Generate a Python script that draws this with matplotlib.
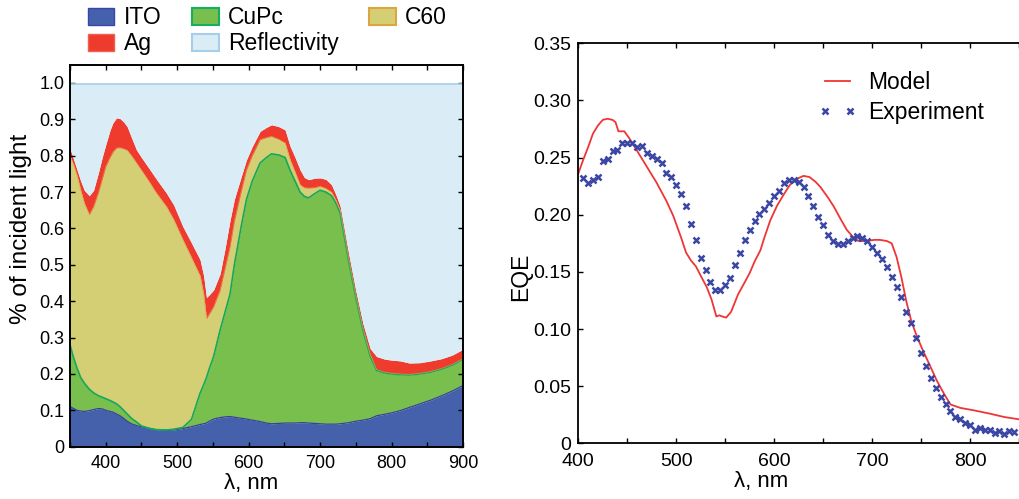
import numpy as np
import matplotlib
matplotlib.use("Agg")
import matplotlib.pyplot as plt
from matplotlib.patches import Patch

plt.rcParams['font.family'] = ['Liberation Sans', 'DejaVu Sans']

# ---- left panel: cumulative absorption boundaries ----
wl = [350, 355, 360, 365, 370, 377, 383, 390, 395, 400, 406, 410, 415, 420, 425,
      430, 436, 443, 450, 462, 470, 485, 495, 508, 520, 532, 537, 541, 545, 551,
      560, 567, 574, 580, 590, 597, 605, 616, 625, 632, 642, 651, 658, 665, 672,
      678, 684, 692, 700, 708, 716, 722, 728, 740, 750, 760, 770, 779, 790, 800,
      812, 825, 840, 855, 870, 885, 900]
ito_top = [0.110, 0.105, 0.100, 0.098, 0.097, 0.099, 0.102, 0.105, 0.104, 0.100,
           0.097, 0.095, 0.090, 0.085, 0.078, 0.070, 0.063, 0.058, 0.055, 0.050,
           0.047, 0.045, 0.046, 0.050, 0.055, 0.061, 0.063, 0.065, 0.070, 0.076,
           0.080, 0.082, 0.083, 0.081, 0.078, 0.076, 0.073, 0.069, 0.065, 0.063,
           0.064, 0.065, 0.065, 0.065, 0.066, 0.066, 0.065, 0.064, 0.063, 0.062,
           0.062, 0.062, 0.063, 0.066, 0.070, 0.073, 0.077, 0.085, 0.089, 0.093,
           0.099, 0.108, 0.118, 0.128, 0.140, 0.153, 0.168]
cupc_top = [0.280, 0.245, 0.215, 0.190, 0.175, 0.158, 0.148, 0.140, 0.136, 0.132,
            0.127, 0.123, 0.118, 0.110, 0.100, 0.090, 0.078, 0.068, 0.057, 0.050,
            0.047, 0.046, 0.048, 0.053, 0.075, 0.147, 0.170, 0.190, 0.215, 0.248,
            0.320, 0.370, 0.420, 0.500, 0.610, 0.680, 0.730, 0.780, 0.795, 0.805,
            0.802, 0.795, 0.760, 0.730, 0.700, 0.688, 0.684, 0.695, 0.705, 0.700,
            0.690, 0.670, 0.643, 0.510, 0.410, 0.320, 0.250, 0.210, 0.203, 0.200,
            0.198, 0.197, 0.200, 0.205, 0.213, 0.224, 0.240]
c60_top = [0.800, 0.775, 0.745, 0.705, 0.670, 0.638, 0.660, 0.700, 0.735, 0.770,
           0.795, 0.810, 0.821, 0.822, 0.819, 0.815, 0.800, 0.780, 0.760, 0.725,
           0.700, 0.660, 0.625, 0.569, 0.520, 0.470, 0.420, 0.352, 0.365, 0.385,
           0.430, 0.490, 0.550, 0.620, 0.705, 0.761, 0.800, 0.844, 0.850, 0.853,
           0.845, 0.835, 0.789, 0.755, 0.720, 0.712, 0.711, 0.712, 0.716, 0.710,
           0.700, 0.678, 0.650, 0.515, 0.414, 0.324, 0.254, 0.212, 0.205, 0.202,
           0.200, 0.199, 0.202, 0.207, 0.215, 0.226, 0.242]
ag_top = [0.820, 0.790, 0.760, 0.730, 0.705, 0.690, 0.705, 0.755, 0.795, 0.830,
          0.870, 0.890, 0.904, 0.902, 0.893, 0.880, 0.850, 0.816, 0.795, 0.761,
          0.738, 0.697, 0.665, 0.605, 0.560, 0.514, 0.470, 0.410, 0.418, 0.431,
          0.475, 0.545, 0.623, 0.680, 0.745, 0.789, 0.825, 0.867, 0.878, 0.885,
          0.880, 0.871, 0.826, 0.795, 0.761, 0.740, 0.734, 0.738, 0.739, 0.735,
          0.720, 0.693, 0.662, 0.530, 0.428, 0.338, 0.270, 0.248, 0.241, 0.238,
          0.236, 0.230, 0.231, 0.236, 0.242, 0.252, 0.268]
refl_top = 0.997

# ---- right panel: EQE ----
model_wl = [400, 405, 410, 415, 420, 425, 430, 435, 438, 441, 447, 452, 460, 470,
            480, 490, 497, 505, 510, 515, 520, 526, 531, 536, 541, 544, 547, 551,
            556, 563, 570, 575, 580, 586, 590, 596, 603, 610, 616, 622, 630, 636,
            642, 647, 655, 661, 668, 674, 680, 686, 695, 702, 708, 715, 720, 725,
            730, 735, 740, 746, 752, 758, 766, 773, 780, 790, 803, 820, 835, 850]
model_eqe = [0.236, 0.248, 0.259, 0.271, 0.278, 0.283, 0.284, 0.283, 0.281, 0.273,
             0.273, 0.267, 0.256, 0.242, 0.228, 0.212, 0.199, 0.180, 0.167, 0.160,
             0.155, 0.145, 0.137, 0.126, 0.111, 0.112, 0.111, 0.110, 0.115, 0.130,
             0.141, 0.149, 0.159, 0.169, 0.180, 0.195, 0.208, 0.218, 0.226, 0.231,
             0.234, 0.233, 0.229, 0.2245, 0.215, 0.207, 0.196, 0.187, 0.181, 0.177,
             0.177, 0.178, 0.178, 0.177, 0.175, 0.163, 0.145, 0.124, 0.107, 0.093,
             0.081, 0.070, 0.055, 0.044, 0.034, 0.031, 0.029, 0.026, 0.023, 0.021]

exp_wl = list(range(405, 850, 5))
exp_eqe = [0.232, 0.2275, 0.230, 0.233, 0.247, 0.2485, 0.256, 0.2566, 0.2625, 0.263,
           0.263, 0.2595, 0.260, 0.2537, 0.2514, 0.2485, 0.2455, 0.2368, 0.2333, 0.226,
           0.218, 0.2077, 0.1919, 0.178, 0.162, 0.1516, 0.1414, 0.134, 0.1345, 0.1385,
           0.145, 0.156, 0.1668, 0.178, 0.187, 0.1948, 0.201, 0.2047, 0.2106, 0.2164,
           0.221, 0.2275, 0.2304, 0.2304, 0.2284, 0.2245, 0.2164, 0.2077, 0.1977, 0.191,
           0.1823, 0.1773, 0.1744, 0.1744, 0.1773, 0.1794, 0.181, 0.180, 0.1773, 0.172,
           0.1668, 0.161, 0.154, 0.1458, 0.137, 0.1277, 0.1152, 0.105, 0.0919, 0.0793,
           0.0676, 0.0569, 0.0487, 0.0408, 0.0341, 0.0283, 0.0233, 0.021, 0.018, 0.016,
           0.0116, 0.013, 0.0116, 0.0116, 0.0093, 0.0108, 0.0085, 0.011, 0.010]

c_ito, c_cupc, c_c60, c_ag, c_refl = '#4561ac', '#78bf4e', '#d4cf75', '#ee3b2e', '#daedf7'


def main():
    fig = plt.figure(figsize=(10.19, 4.99), dpi=100)

    # left: stacked absorption
    ax = fig.add_axes([0.0687, 0.1048, 0.3857, 0.7655])
    ax.fill_between(wl, 0, ito_top, color=c_ito, lw=0)
    ax.fill_between(wl, ito_top, cupc_top, color=c_cupc, lw=0)
    ax.fill_between(wl, cupc_top, c60_top, color=c_c60, lw=0)
    ax.fill_between(wl, c60_top, ag_top, color=c_ag, lw=0)
    ax.fill_between(wl, ag_top, refl_top, color=c_refl, lw=0)
    ax.plot(wl, ito_top, color='#3a3f9e', lw=0.9)
    ax.plot(wl, cupc_top, color='#14a85a', lw=1.2)
    ax.plot(wl, c60_top, color='#e0a040', lw=0.6, alpha=0.7)
    ax.plot([350, 900], [refl_top, refl_top], color='#a6cdea', lw=1.2)

    ax.set_xlim(350, 900)
    ax.set_ylim(0, 1.05)
    ax.set_xticks(range(400, 901, 100))
    ax.set_xticks(range(350, 901, 50), minor=True)
    ax.set_yticks(np.arange(0, 1.01, 0.1))
    ax.set_yticklabels(['0'] + ['%.1f' % v for v in np.arange(0.1, 1.01, 0.1)])
    ax.tick_params(which='both', direction='in', length=3.5, width=1,
                   top=True, right=True, labelsize=13, pad=4)
    ax.tick_params(axis='x', pad=6)
    for s in ax.spines.values():
        s.set_linewidth(1.4)
    ax.set_xlabel('λ, nm', fontsize=16)
    ax.xaxis.set_label_coords(0.46, -0.07)
    ax.set_ylabel('% of incident light', fontsize=17.5)
    ax.yaxis.set_label_coords(-0.097, 0.57)

    handles = [Patch(facecolor=c_ito, edgecolor='#3a45a8', lw=1, label='ITO'),
               Patch(facecolor=c_ag, edgecolor='#f06050', lw=1, label='Ag'),
               Patch(facecolor=c_cupc, edgecolor='#14b060', lw=1.5, label='CuPc'),
               Patch(facecolor=c_refl, edgecolor='#a6cdea', lw=1.5, label='Reflectivity'),
               Patch(facecolor=c_c60, edgecolor='#dba540', lw=1.5, label='C60')]
    fig.legend(handles=handles, ncol=3, loc='upper left',
               bbox_to_anchor=(0.0864, 0.987), frameon=False, fontsize=16.5,
               handlelength=1.15, handleheight=0.75, handletextpad=0.4,
               columnspacing=1.35, labelspacing=0.12, borderpad=0, borderaxespad=0)

    # right: EQE
    ax2 = fig.add_axes([0.5675, 0.1116, 0.4325, 0.8016])
    ax2.plot(model_wl, model_eqe, color='#ef3535', lw=1.3, label='Model')
    ax2.plot(exp_wl, exp_eqe, ls='none', marker='x', ms=4, mew=1.8,
             color='#3b46a4', label='Experiment')
    ax2.set_xlim(400, 850)
    ax2.set_ylim(0, 0.35)
    ax2.set_xticks(range(400, 801, 100))
    ax2.set_xticks(range(450, 851, 100), minor=True)
    ax2.set_yticks(np.arange(0, 0.351, 0.05))
    ax2.set_yticklabels(['0'] + ['%.2f' % v for v in np.arange(0.05, 0.351, 0.05)])
    ax2.tick_params(which='both', direction='in', length=3.5, width=1,
                    top=True, right=False, labelsize=14, pad=4)
    ax2.tick_params(axis='x', pad=7)
    ax2.tick_params(axis='y', pad=5)
    for s in ax2.spines.values():
        s.set_linewidth(1.3)
    ax2.spines['right'].set_visible(False)
    ax2.set_xlabel('λ, nm', fontsize=16)
    ax2.xaxis.set_label_coords(0.415, -0.07)
    ax2.set_ylabel('EQE', fontsize=16.5)
    ax2.yaxis.set_label_coords(-0.105, 0.416)
    ax2.legend(loc='upper left', bbox_to_anchor=(0.544, 0.93), frameon=False,
               fontsize=16.5, numpoints=2, handlelength=1.7, handletextpad=0.5,
               labelspacing=0.3, borderpad=0, borderaxespad=0)

    fig.savefig('out.png', dpi=100)


if __name__ == "__main__":
    main()
